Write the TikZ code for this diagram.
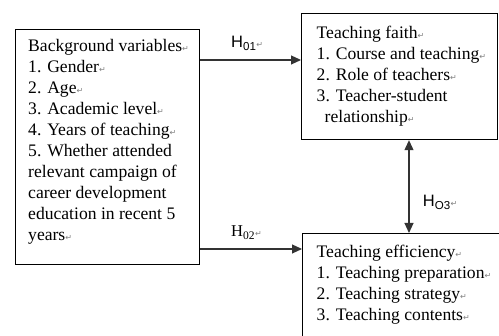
\documentclass[tikz,border=0pt]{standalone}
\usepackage{fontspec}
\setmainfont{Liberation Serif}
\newfontfamily\labelfont{Liberation Sans}
\newfontfamily\markfont{DejaVu Sans}
\usetikzlibrary{arrows.meta}

% paragraph mark as printed in the figure
\newcommand{\pmark}{{\markfont\fontsize{8}{8}\selectfont\color{gray}↵}}

\tikzset{
	box/.style={draw=black, line width=1.2pt, inner sep=0pt, anchor=north west},
	boxtext/.style={anchor=north west, inner sep=0pt, align=left,
		font=\fontsize{17.6}{21}\selectfont},
	hypo/.style={anchor=base west, inner sep=0pt,
		font=\labelfont\fontsize{16.5}{18}\selectfont},
	link/.style={draw=black!80, line width=1.1pt, -{Triangle[length=10pt,width=9pt]}},
	twoway/.style={link, {Triangle[length=10pt,width=9pt]}-{Triangle[length=10pt,width=9pt]}},
}

\begin{document}
\begin{tikzpicture}[x=1pt,y=1pt]
\useasboundingbox (0,0) rectangle (499,336);
\clip (0,0) rectangle (499,336);

% Background variables
\node[box, minimum width=184pt, minimum height=235pt] (bg) at (15,307) {};
\node[boxtext] (bgtext) at (28,297) {Background variables\pmark\\
	1. Gender\pmark\\
	2. Age\pmark\\
	3. Academic level\pmark\\
	4. Years of teaching\pmark\\
	5. Whether attended\\
	relevant campaign of\\
	career development\\
	education in recent 5\\
	years\pmark};

% Teaching faith
\node[box, minimum width=196pt, minimum height=126pt] (faith) at (301,323) {};
\node[boxtext] (faithtext) at (316.5,310) {Teaching faith\pmark\\
	1. Course and teaching\pmark\\
	2. Role of teachers\pmark\\
	3. Teacher-student\\
	\hspace*{8pt}relationship\pmark};

% Teaching efficiency
\node[box, minimum width=200pt, minimum height=120pt] (eff) at (302,103) {};
\node[boxtext] (efftext) at (316.5,91.5) {Teaching efficiency\pmark\\
	1. Teaching preparation\pmark\\
	2. Teaching strategy\pmark\\
	3. Teaching contents\pmark\\
	\pmark};

% Hypotheses
\coordinate (h01) at (0,276);
\coordinate (h02) at (0,87);
\coordinate (h03) at (409,0);
\draw[link] (bg.east |- h01) -- (faith.west |- h01);
\draw[link] (bg.east |- h02) -- (eff.west |- h02);
\draw[twoway] (faith.south -| h03) -- (eff.north -| h03);

\node[hypo] (l01) at (231,288) {H\textsubscript{01}\pmark};
\node[hypo, font=\fontsize{16.5}{18}\selectfont] (l02) at (231,99) {H\textsubscript{02}\pmark};
\node[hypo] (l03) at (422.7,129.5) {H\textsubscript{O3}\pmark};

\end{tikzpicture}
\end{document}
